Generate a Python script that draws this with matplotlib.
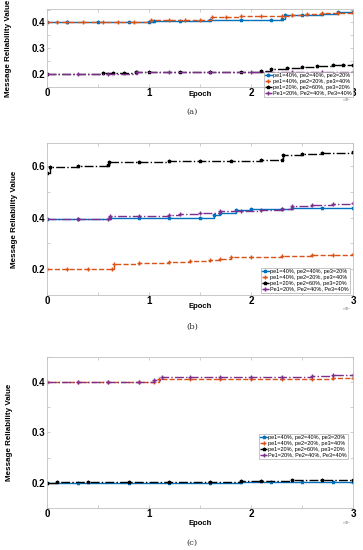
import matplotlib
matplotlib.use("Agg")
import matplotlib.pyplot as plt
from matplotlib.ticker import FixedLocator, FixedFormatter

plt.rcParams['font.family'] = ['Liberation Sans', 'DejaVu Sans']

labels = ['pe1=40%, pe2=40%, pe3=20%',
          'pe1=40%, pe2=20%, pe3=40%',
          'pe1=20%, pe2=60%, pe3=20%',
          'Pe1=20%, Pe2=40%, Pe3=40%']
colors = ['#0072BD', '#D95319', '#000000', '#7E2F8E']
styles = ['-', '--', '-.', '-.']
markers = ['*', '+', '*', '+']

# ---- panel (a) ----
a_blue_x = [0, 2000, 5000, 8000, 10000, 10500, 13000, 16000, 19000, 22000, 23000, 23300, 25000, 27000, 28500, 30000]
a_blue_y = [0.400, 0.400, 0.400, 0.400, 0.401, 0.405, 0.406, 0.408, 0.409, 0.410, 0.412, 0.428, 0.430, 0.432, 0.440, 0.442]
a_orange_x = [0, 1000, 2000, 3500, 5500, 7000, 8500, 10200, 12000, 13500, 15000, 16200, 17500, 19000, 21000, 23000, 24000, 25500, 27000, 28500, 30000]
a_orange_y = [0.400, 0.400, 0.400, 0.400, 0.400, 0.400, 0.400, 0.408, 0.409, 0.410, 0.411, 0.423, 0.423, 0.424, 0.424, 0.425, 0.430, 0.433, 0.436, 0.438, 0.442]
a_black_x = [0, 5500, 6500, 7500, 8700, 10000, 13000, 16000, 19000, 21000, 22000, 23500, 25000, 26500, 28000, 29000, 30000]
a_black_y = [0.200, 0.203, 0.204, 0.205, 0.208, 0.209, 0.210, 0.210, 0.210, 0.211, 0.220, 0.225, 0.228, 0.231, 0.234, 0.235, 0.236]
a_purple_x = [0, 3000, 6000, 8800, 12000, 16000, 20000, 24000, 27000, 30000]
a_purple_y = [0.200, 0.200, 0.201, 0.207, 0.208, 0.208, 0.208, 0.209, 0.209, 0.209]

# ---- panel (b) ----
b_blue_x = [0, 3000, 6200, 9000, 12000, 15000, 16400, 17000, 18500, 20000, 23000, 24000, 27000, 30000]
b_blue_y = [0.396, 0.396, 0.400, 0.400, 0.400, 0.400, 0.412, 0.418, 0.431, 0.432, 0.433, 0.436, 0.436, 0.436]
b_orange_x = [0, 2000, 4000, 6400, 6600, 9000, 12000, 14000, 16000, 17000, 18000, 20000, 23000, 26000, 28000, 30000]
b_orange_y = [0.200, 0.200, 0.200, 0.200, 0.220, 0.225, 0.230, 0.233, 0.235, 0.240, 0.246, 0.248, 0.252, 0.255, 0.257, 0.259]
b_black_x = [0, 300, 3000, 6000, 6100, 9000, 12000, 15000, 18000, 21000, 23000, 23100, 25000, 27000, 30000]
b_black_y = [0.575, 0.598, 0.600, 0.604, 0.615, 0.618, 0.620, 0.621, 0.622, 0.623, 0.624, 0.645, 0.648, 0.653, 0.654]
b_purple_x = [0, 3000, 6000, 6200, 9000, 12000, 13000, 15000, 17000, 19000, 21000, 23000, 24000, 26000, 28000, 30000]
b_purple_y = [0.396, 0.396, 0.396, 0.408, 0.408, 0.409, 0.415, 0.420, 0.425, 0.427, 0.430, 0.433, 0.445, 0.450, 0.455, 0.457]

# ---- panel (c) ----
c_blue_x = [0, 3000, 8000, 12000, 16000, 19000, 22000, 25000, 28000, 30000]
c_blue_y = [0.200, 0.200, 0.200, 0.200, 0.200, 0.201, 0.201, 0.202, 0.202, 0.202]
c_orange_x = [0, 3000, 6000, 9000, 10500, 11000, 14000, 17000, 20000, 23000, 26000, 28000, 30000]
c_orange_y = [0.400, 0.400, 0.400, 0.401, 0.401, 0.406, 0.406, 0.406, 0.406, 0.407, 0.407, 0.408, 0.408]
c_black_x = [0, 1000, 4000, 8000, 12000, 16000, 19000, 21000, 24000, 27000, 30000]
c_black_y = [0.199, 0.201, 0.201, 0.201, 0.201, 0.202, 0.204, 0.204, 0.205, 0.205, 0.206]
c_purple_x = [0, 3000, 6000, 9000, 10500, 11300, 14000, 17000, 20000, 23000, 26000, 28000, 30000]
c_purple_y = [0.400, 0.400, 0.400, 0.401, 0.405, 0.411, 0.411, 0.411, 0.411, 0.411, 0.412, 0.414, 0.414]

x_ticks = [0, 5000, 10000, 15000, 20000, 25000, 30000]
x_ticklabels = ['0', '', '1', '', '2', '', '3']

panels = [
    dict(series=[(a_blue_x, a_blue_y), (a_orange_x, a_orange_y), (a_black_x, a_black_y), (a_purple_x, a_purple_y)],
         rect=[0.1295, 0.8418, 0.843, 0.1418], ylim=(0.15, 0.452),
         yticks=[0.15, 0.2, 0.25, 0.3, 0.35, 0.4, 0.45], ylabels=['', '0.2', '', '0.3', '', '0.4', ''],
         leg=(1.0, -0.128), xlab_y=-0.094, ylab_x=-0.114, cap='(a)', cap_y=112, x10_y=-0.17),
    dict(series=[(b_blue_x, b_blue_y), (b_orange_x, b_orange_y), (b_black_x, b_black_y), (b_purple_x, b_purple_y)],
         rect=[0.1295, 0.4636, 0.843, 0.2764], ylim=(0.1, 0.69),
         yticks=[0.2, 0.3, 0.4, 0.5, 0.6], ylabels=['0.2', '', '0.4', '', '0.6'],
         leg=(0.99, 0.013), xlab_y=-0.077, ylab_x=-0.095, cap='(b)', cap_y=327, x10_y=-0.092),
    dict(series=[(c_blue_x, c_blue_y), (c_orange_x, c_orange_y), (c_black_x, c_black_y), (c_purple_x, c_purple_y)],
         rect=[0.1295, 0.0764, 0.843, 0.2745], ylim=(0.15, 0.45),
         yticks=[0.15, 0.2, 0.25, 0.3, 0.35, 0.4, 0.45], ylabels=['', '0.2', '', '0.3', '', '0.4', ''],
         leg=(0.984, 0.325), xlab_y=-0.106, ylab_x=-0.111, cap='(c)', cap_y=543, x10_y=-0.1),
]

fig = plt.figure(figsize=(3.63, 5.5), dpi=100)
for p in panels:
    ax = fig.add_axes(p['rect'])
    for (xs, ys), c, ls, mk, lab in zip(p['series'], colors, styles, markers, labels):
        ax.plot(xs, ys, color=c, linestyle=ls, marker=mk, markersize=2.5, linewidth=1.0,
                drawstyle='steps-post', label=lab)
    ax.set_xlim(0, 30000)
    ax.set_ylim(*p['ylim'])
    ax.xaxis.set_major_locator(FixedLocator(x_ticks))
    ax.xaxis.set_major_formatter(FixedFormatter(x_ticklabels))
    ax.yaxis.set_major_locator(FixedLocator(p['yticks']))
    ax.yaxis.set_major_formatter(FixedFormatter(p['ylabels']))
    ax.tick_params(direction='in', length=2, width=0.5, color='#bbbbbb', top=True, right=True,
                   labelsize=7, pad=1)
    for lbl in ax.get_xticklabels() + ax.get_yticklabels():
        lbl.set_fontweight('bold')
    for s in ax.spines.values():
        s.set_color('#c0c0c0')
        s.set_linewidth(0.6)
    ax.set_xlabel('Epoch', fontsize=5.5, fontweight='bold')
    ax.xaxis.set_label_coords(0.5, p['xlab_y'])
    ax.xaxis.label.set_va('center')
    ax.set_ylabel('Message Reliability Value', fontsize=5.8, fontweight='bold')
    ax.yaxis.set_label_coords(p['ylab_x'], 0.5)
    ax.text(0.995, p['x10_y'], '×10$^4$', transform=ax.transAxes, ha='right', va='center',
            fontsize=2.5, color='#666666')
    leg = ax.legend(loc='lower right', bbox_to_anchor=p['leg'], fontsize=4, labelspacing=0.15,
                    handlelength=1.2, handletextpad=0.2, borderpad=0.25, borderaxespad=0,
                    framealpha=1, fancybox=False, edgecolor='#999999')
    leg.get_frame().set_linewidth(0.4)
    leg.set_zorder(10)
    fig.text(192 / 363, 1 - p['cap_y'] / 550, p['cap'], ha='center', va='center',
             fontsize=6, family='DejaVu Serif', color='#333333')

fig.savefig('out.png', dpi=100)
